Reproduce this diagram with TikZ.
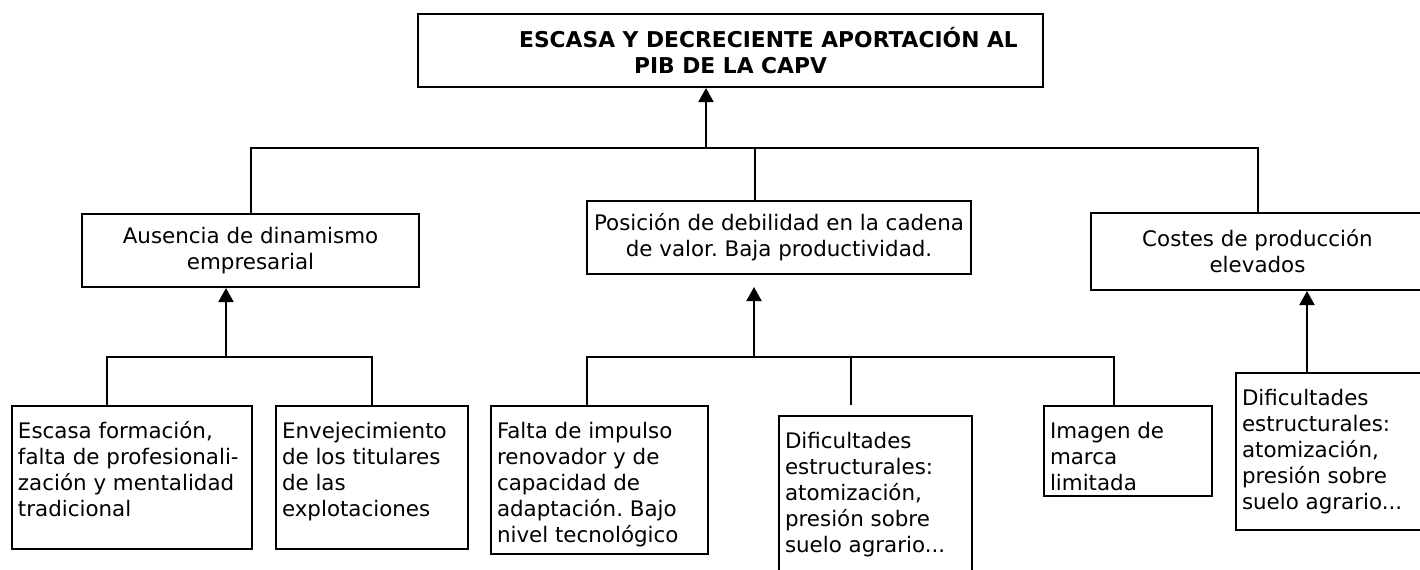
\documentclass[tikz,border=0pt]{standalone}
\usepackage{fontspec}
\setmainfont{DejaVu Sans}
\usepackage{tikz}
\usetikzlibrary{arrows.meta}
\frenchspacing
\newcommand{\bodyfont}{\fontsize{10.7}{13}\selectfont}
\newcommand{\titlefont}{\fontsize{10.9}{13}\selectfont\bfseries}
\newcommand{\causebox}[3]{\parbox[t][#2][t]{#1}{\raggedright\strut #3}}

\begin{document}
\begin{tikzpicture}[x=0.5pt,y=-0.5pt]
\useasboundingbox (0,0) rectangle (1420,569);
%\tikzstyle{mid}=[draw,thick,align=center]
\begin{scope}[every node/.style={draw,line width=1pt,font=\bodyfont}]
    \node[minimum width=312.5pt,minimum height=36.5pt,align=center,font=\titlefont] (pib) at (730.5,50.5)
        {\hspace*{38pt}ESCASA Y DECRECIENTE APORTACIÓN AL\\PIB DE LA CAPV};

    \node[minimum width=168.5pt,minimum height=36.5pt,align=center] (din) at (250.5,250.5)
        {Ausencia de dinamismo\\empresarial};
    \node[minimum width=192pt,minimum height=36.5pt,align=center] (pos) at (779,237.5)
        {Posición de debilidad en la cadena\\de valor. Baja productividad.};
    % right edge runs off the page
    \node[minimum width=166.5pt,minimum height=38.5pt,align=center] (cost) at (1257.5,251.5)
        {Costes de producción\\elevados};
\end{scope}

\begin{scope}[every node/.style={draw,line width=1pt,font=\bodyfont,anchor=north west,
              inner xsep=3pt,inner ysep=7pt}]
    \node (esc) at (11,405) {\causebox{114pt}{57.5pt}{Escasa formación,\\falta de profesionali-\\zación y mentalidad\\tradicional}};
    \node (env) at (275,405) {\causebox{90pt}{57.5pt}{Envejecimiento\\de los titulares\\de las\\explotaciones}};

    \node (fal) at (490,405) {\causebox{102.5pt}{60pt}{Falta de impulso\\renovador y de\\capacidad de\\adaptación. Bajo\\nivel tecnológico}};
    \node (dif) at (778,415) {\causebox{90.5pt}{66pt}{Dificultades\\estructurales:\\atomización,\\presión sobre\\suelo agrario...}};
    \node (ima) at (1043,405) {\causebox{78pt}{31pt}{Imagen de\\marca\\limitada}};

    \node (dif2) at (1235,372) {\causebox{88.5pt}{64.5pt}{Dificultades\\estructurales:\\atomización,\\presión sobre\\suelo agrario...}};
\end{scope}

\begin{scope}[>={Triangle[width=7.5pt,length=7pt]},line width=1pt]
    \coordinate (bus0) at (706,148);
    \coordinate (busp) at (755,148);
    \coordinate (bus1) at (226,357);
    \coordinate (e1) at (107,357);
    \coordinate (bus2) at (754,357);
    \coordinate (f1) at (587,357);
    \coordinate (f2) at (851,357);
    \coordinate (f3) at (1114,357);
    \coordinate (r1) at (1307,372);

    \draw [->] (bus0) -- (bus0 |- pib.south);
    \draw (din.north) |- (bus0) -| (cost.north);
    \draw (busp) -- (busp |- pos.north);

    \draw [->] (bus1) -- (bus1 |- din.south);
    \draw (esc.north -| e1) -- (e1) -- (env.north |- e1) -- (env.north);

    \draw [->,shorten >=6pt] (bus2) -- (bus2 |- pos.south);
    \draw (fal.north -| f1) -- (f1) -- (f3) -- (f3 |- ima.north);
    \draw [shorten >=5pt] (f2) -- (f2 |- dif.north);

    \draw [->] (r1 |- dif2.north) -- (r1 |- cost.south);
\end{scope}
\end{tikzpicture}
\end{document}
